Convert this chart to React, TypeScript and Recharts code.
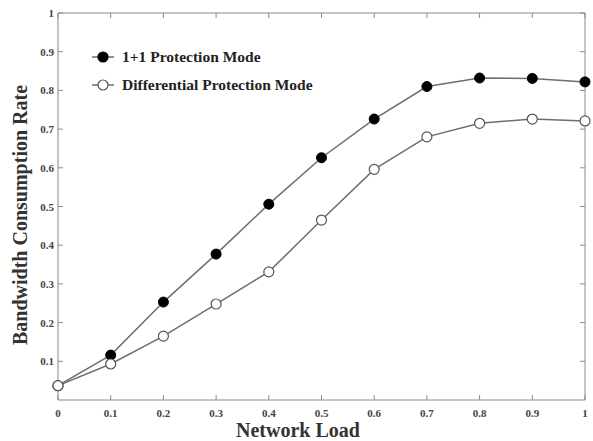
import { LineChart, Line, XAxis, YAxis, Legend } from 'recharts';

const loads = [0, 0.1, 0.2, 0.3, 0.4, 0.5, 0.6, 0.7, 0.8, 0.9, 1];
const oneplusone = [0.037, 0.116, 0.253, 0.377, 0.506, 0.626, 0.726, 0.81, 0.832, 0.831, 0.822];
const differential = [0.037, 0.093, 0.165, 0.248, 0.331, 0.465, 0.596, 0.68, 0.715, 0.726, 0.721];
const xTicks = [0, 0.1, 0.2, 0.3, 0.4, 0.5, 0.6, 0.7, 0.8, 0.9, 1];
const yTicks = [0.1, 0.2, 0.3, 0.4, 0.5, 0.6, 0.7, 0.8, 0.9, 1];

const data = loads.map((x, i) => ({ x, a: oneplusone[i], b: differential[i] }));

const SERIF = '"Liberation Serif", "Times New Roman", serif';
const AXIS = '#8a8a8a';
const LINE = '#6e6e6e';

const BottomTick = (props: any) => {
  const { x, y, payload } = props;
  return (
    <g>
      <line x1={x} y1={y} x2={x} y2={y - 5} stroke={AXIS} />
      <text x={x} y={y + 17} textAnchor="middle" fontSize={11} fontWeight="bold" fill="#444" fontFamily={SERIF}>
        {String(payload.value)}
      </text>
    </g>
  );
};

const LeftTick = (props: any) => {
  const { x, y, payload } = props;
  return (
    <g>
      <line x1={x} y1={y} x2={x + 5} y2={y} stroke={AXIS} />
      <text x={x - 4} y={y + 4} textAnchor="end" fontSize={11} fontWeight="bold" fill="#444" fontFamily={SERIF}>
        {String(payload.value)}
      </text>
    </g>
  );
};

const TopTick = (props: any) => {
  const { x, y } = props;
  return <line x1={x} y1={y} x2={x} y2={y + 5} stroke={AXIS} />;
};

const RightTick = (props: any) => {
  const { x, y } = props;
  return <line x1={x} y1={y} x2={x - 5} y2={y} stroke={AXIS} />;
};

const legendItems = [
  { label: '1+1 Protection Mode', fill: '#000' },
  { label: 'Differential Protection Mode', fill: '#fff' },
];

const renderLegend = () => (
  <div style={{ fontFamily: SERIF }}>
    {legendItems.map((it) => (
      <div key={it.label} style={{ display: 'flex', alignItems: 'center', height: 28 }}>
        <svg width={26} height={14}>
          <line x1={2} y1={7} x2={24} y2={7} stroke={LINE} strokeWidth={1.5} />
          <circle cx={13} cy={7} r={5} fill={it.fill} stroke={it.fill === '#000' ? '#000' : '#555'} strokeWidth={1.2} />
        </svg>
        <span style={{ marginLeft: 6, fontSize: 15.5, fontWeight: 'bold', color: '#222' }}>{it.label}</span>
      </div>
    ))}
  </div>
);

export default function App() {
  return (
    <div style={{ position: 'absolute', left: 0, top: 0, width: 593, height: 441, background: '#fff' }}>
      <LineChart width={593} height={441} data={data} margin={{ top: 12, right: 7, bottom: 0, left: 0 }}>
        <XAxis
          dataKey="x"
          type="number"
          domain={[0, 1]}
          ticks={xTicks}
          height={41}
          tickSize={0}
          tickMargin={0}
          tickLine={false}
          stroke={AXIS}
          tick={<BottomTick />}
          interval={0}
        />
        <XAxis
          xAxisId="top"
          orientation="top"
          dataKey="x"
          type="number"
          domain={[0, 1]}
          ticks={xTicks}
          height={1}
          tickSize={0}
          tickMargin={0}
          tickLine={false}
          stroke={AXIS}
          tick={<TopTick />}
          interval={0}
        />
        <YAxis
          type="number"
          domain={[0, 1]}
          ticks={yTicks}
          width={58}
          tickSize={0}
          tickMargin={0}
          tickLine={false}
          stroke={AXIS}
          tick={<LeftTick />}
          interval={0}
        />
        <YAxis
          yAxisId="right"
          orientation="right"
          type="number"
          domain={[0, 1]}
          ticks={yTicks}
          width={1}
          tickSize={0}
          tickMargin={0}
          tickLine={false}
          stroke={AXIS}
          tick={<RightTick />}
          interval={0}
        />
        <Legend
          layout="horizontal"
          verticalAlign="middle"
          align="center"
          content={renderLegend}
          wrapperStyle={{ left: 90, top: 43, width: 290 }}
        />
        <Line
          dataKey="a"
          stroke={LINE}
          strokeWidth={1.5}
          dot={{ r: 5, fill: '#000', stroke: '#000', strokeWidth: 1 }}
          isAnimationActive={false}
        />
        <Line
          dataKey="b"
          xAxisId="top"
          yAxisId="right"
          stroke={LINE}
          strokeWidth={1.5}
          dot={{ r: 5, fill: '#fff', stroke: '#555', strokeWidth: 1.2 }}
          isAnimationActive={false}
        />
        <text
          x={22}
          y={215}
          transform="rotate(-90 22 215)"
          textAnchor="middle"
          dominantBaseline="middle"
          fontSize={20}
          fontWeight="bold"
          fill="#333"
          fontFamily={SERIF}
        >
          Bandwidth Consumption Rate
        </text>
        <text x={298} y={437} textAnchor="middle" fontSize={20} fontWeight="bold" fill="#333" fontFamily={SERIF}>
          Network Load
        </text>
      </LineChart>
    </div>
  );
}
